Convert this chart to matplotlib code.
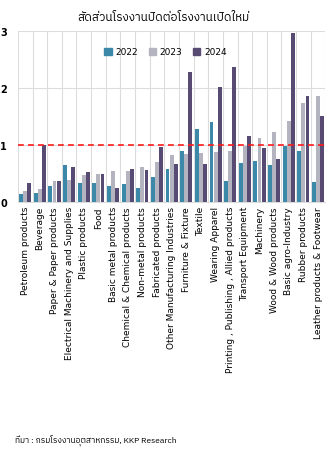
import matplotlib
matplotlib.use("Agg")
import matplotlib.pyplot as plt
from matplotlib import font_manager
from matplotlib.patches import Patch
import numpy as np

categories = ["Petroleum products", "Beverage", "Paper & Paper products",
              "Electrical Machinery and Supplies", "Plastic products", "Food",
              "Basic metal products", "Chemical & Chemical products",
              "Non-metal products", "Fabricated products",
              "Other Manufacturing Industries", "Furniture & Fixture", "Textile",
              "Wearing Apparel", "Printing , Publishing , Allied products",
              "Transport Equipment", "Machinery", "Wood & Wood products",
              "Basic agro-Industry", "Rubber products",
              "Leather products & Footwear"]
v2022 = [0.14, 0.15, 0.28, 0.64, 0.33, 0.34, 0.28, 0.32, 0.24, 0.44, 0.57,
         0.90, 1.28, 1.40, 0.37, 0.69, 0.72, 0.64, 0.98, 0.90, 0.35]
v2023 = [0.19, 0.23, 0.36, 0.39, 0.48, 0.49, 0.54, 0.55, 0.61, 0.70, 0.82,
         0.84, 0.85, 0.87, 0.89, 0.98, 1.12, 1.22, 1.42, 1.74, 1.85]
v2024 = [0.34, 1.00, 0.36, 0.62, 0.52, 0.49, 0.24, 0.57, 0.56, 0.96, 0.66,
         2.28, 0.66, 2.02, 2.36, 1.16, 0.95, 0.76, 2.95, 1.85, 1.51]
years = ["2022", "2023", "2024"]
colors = ["#3b88a9", "#b4b3c0", "#574b73"]

# find a font that can draw Thai
keys = ["Thai", "Loma", "Garuda", "Sarabun", "Kinnari", "Norasi", "Waree", "Umpush", "Tlwg"]
thai_fonts = sorted({f.name for f in font_manager.fontManager.ttflist
                     if any(k in f.name for k in keys)})
fam = thai_fonts + ["DejaVu Sans"]

fig = plt.figure(figsize=(3.26, 4.52), dpi=100)
ax = fig.add_axes([0.055, 0.551, 0.943, 0.379])

x = np.arange(len(categories))
w = 0.28
for i, (vals, c) in enumerate(zip([v2022, v2023, v2024], colors)):
    ax.bar(x + (i - 1) * w, vals, width=w * 0.95, color=c, zorder=3)

for b in np.arange(-0.5, len(categories), 1):
    ax.axvline(b, color="#dcdcdc", lw=0.8, zorder=1)
for yv in [1, 2, 3]:
    ax.axhline(yv, color="#dcdcdc", lw=0.8, zorder=1)
ax.axhline(1, color="#ff1a1a", lw=1.2, ls=(0, (3.5, 2.5)), zorder=4)

ax.set_xlim(-0.5, len(categories) - 0.5)
ax.set_ylim(0, 3)
ax.set_yticks([0, 1, 2, 3])
ax.set_yticklabels(["0", "1", "2", "3"], fontsize=7, fontweight="bold")
ax.set_xticks(x)
ax.set_xticklabels(categories, rotation=90, fontsize=6.5)
ax.tick_params(axis="both", length=0, pad=3)
ax.tick_params(axis="y", pad=8)
for s in ax.spines.values():
    s.set_visible(False)
ax.spines["bottom"].set_visible(True)
ax.spines["bottom"].set_color("#dcdcdc")

handles = [Patch(color=c, label=y) for c, y in zip(colors, years)]
ax.legend(handles=handles, loc="upper center", bbox_to_anchor=(0.48, 0.95), ncol=3,
          frameon=False, fontsize=6.5, handlelength=0.8, handleheight=0.8,
          handletextpad=0.4, columnspacing=1.2)

fig.text(0.5, 0.962, "สัดส่วนโรงงานปิดต่อโรงงานเปิดใหม่", ha="center", va="center",
         fontsize=8.5, family=fam)
fig.text(0.045, 0.025, "ที่มา : กรมโรงงานอุตสาหกรรม, KKP Research", ha="left", va="center",
         fontsize=6, family=fam)

fig.savefig("out.png", dpi=100)
